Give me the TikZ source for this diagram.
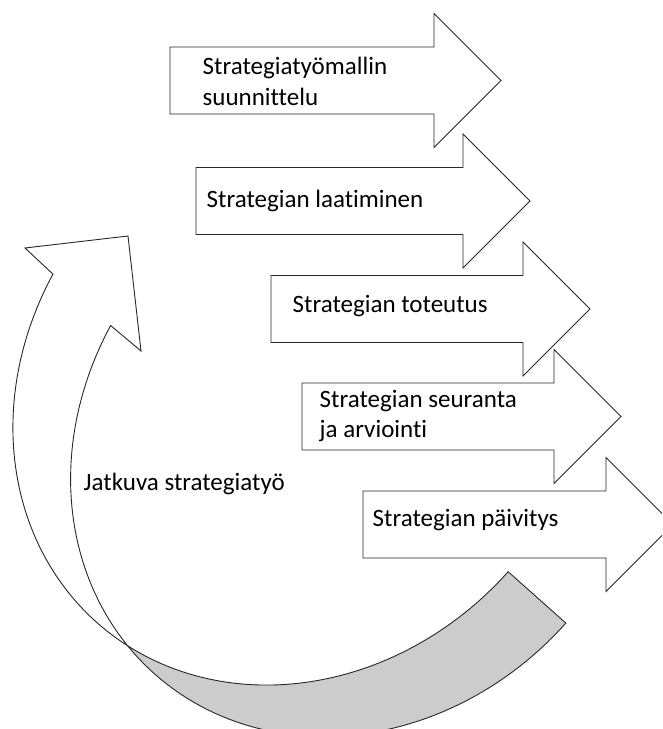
\documentclass[tikz,border=0pt]{standalone}
\usepackage{fontspec}
\setmainfont{Carlito}[Ligatures={NoCommon}]
\definecolor{bandgray}{RGB}{204,204,204}
\definecolor{linecol}{RGB}{40,40,40}
\newcommand\blkarrow[3]{%
  \draw[arrowshape] (#1,#2-33.5) -- (#3,#2-33.5) -- (#3,#2-67) -- (#3+67,#2)
    -- (#3,#2+67) -- (#3,#2+33.5) -- (#1,#2+33.5) -- cycle;}
\begin{document}
\begin{tikzpicture}[x=1pt,y=-1pt,
  arrowshape/.style={draw=linecol,fill=white,line width=0.9pt,line join=miter},
  bandface/.style={draw=linecol,fill=bandgray,line width=0.9pt,line join=miter},
  frontface/.style={draw=linecol,fill=white,line width=0.9pt,line join=miter},
  lbl/.style={anchor=base west,inner sep=0pt,font=\fontsize{25}{31}\selectfont}]
\useasboundingbox (0,0) rectangle (662,729);
\begin{scope}
\clip (0,0) rectangle (662,729);
% block arrows
\blkarrow{170}{80.5}{434}
\blkarrow{196}{201}{463}
\blkarrow{271}{309}{523}
\blkarrow{302}{416.5}{554}
\blkarrow{363}{524.5}{606}
% curved arrow: grey back band (two congruent tilted ellipses)
\path[bandface]
  plot[domain=0:81.88,samples=60,variable=\t]
    ({303.9+204.27*cos(\t)-207.28*sin(\t)},{389.7+182.0*cos(\t)+232.64*sin(\t)})
  -- plot[domain=98.12:0,samples=60,variable=\t]
    ({361.6+204.27*cos(\t)-207.28*sin(\t)},{441.1+182.0*cos(\t)+232.64*sin(\t)})
  -- cycle;
% curved arrow: front face with arrowhead
\path[frontface]
  plot[domain=165:81.88,samples=60,variable=\t]
    ({303.9+204.27*cos(\t)-207.28*sin(\t)},{389.7+182.0*cos(\t)+232.64*sin(\t)})
  -- plot[domain=98.12:165,samples=60,variable=\t]
    ({361.6+204.27*cos(\t)-207.28*sin(\t)},{441.1+182.0*cos(\t)+232.64*sin(\t)})
  -- (141,351) -- (128,236) -- (25,248) -- cycle;
\end{scope}
% labels
\node[lbl] (t1a) at (202.5,74) {Strategiatyömallin};
\node[lbl] (t1b) at (202.5,105) {suunnittelu};
\node[lbl] (t2) at (206.5,207) {Strategian laatiminen};
\node[lbl] (t3) at (292.5,312.5) {Strategian toteutus};
\node[lbl] (t4a) at (319.5,407) {Strategian seuranta};
\node[lbl] (t4b) at (319.5,437) {ja arviointi};
\node[lbl] (t5) at (372.5,526) {Strategian päivitys};
\node[lbl] (t6) at (83.5,490) {Jatkuva strategiatyö};
\end{tikzpicture}
\end{document}
